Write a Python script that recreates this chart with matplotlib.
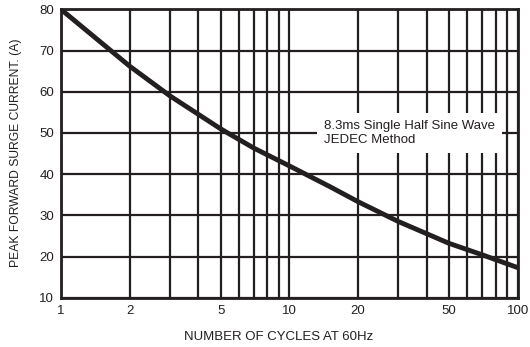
import numpy as np
import matplotlib.pyplot as plt

plt.rcParams['font.family'] = ['Liberation Sans', 'DejaVu Sans']

cycles = [1, 2, 3, 4, 5, 7, 10, 15, 20, 30, 50, 70, 100]
current = [80, 66.2, 59, 54.5, 51, 46.3, 42, 37, 33.3, 28.5, 23.2, 20.4, 17.3]
xticks = [1, 2, 5, 10, 20, 50, 100]
xgrid = [1, 2, 3, 4, 5, 6, 7, 8, 9, 10, 20, 30, 40, 50, 60, 70, 80, 90, 100]
yticks = [10, 20, 30, 40, 50, 60, 70, 80]

fig = plt.figure(figsize=(5.3, 3.47), dpi=100)
ax = fig.add_axes([0.115, 0.142, 0.862, 0.831])

for g in xgrid:
    ax.axvline(g, color='#231f20', lw=1.6, zorder=1)
for g in yticks:
    ax.axhline(g, color='#231f20', lw=1.6, zorder=1)

ax.plot(cycles, current, color='#231f20', lw=3.5, zorder=3, solid_capstyle='butt')

ax.set_xscale('log')
ax.set_xlim(1, 100)
ax.set_ylim(10, 80)
ax.set_xticks(xticks)
ax.set_xticklabels([str(t) for t in xticks])
ax.minorticks_off()
ax.set_yticks(yticks)
ax.tick_params(length=0, labelsize=9.5, colors='#231f20', pad=5)
for s in ax.spines.values():
    s.set_linewidth(2)
    s.set_color('#231f20')

ax.text(14.2, 50.0, "8.3ms Single Half Sine Wave\nJEDEC Method", fontsize=9.5,
        va='center', ha='left', color='#231f20', zorder=4,
        bbox=dict(facecolor='white', edgecolor='none', pad=5))

fig.text(0.525, 0.029, "NUMBER OF CYCLES AT 60Hz", ha='center', va='center',
         fontsize=9.5, color='#231f20')
fig.text(0.030, 0.56, "PEAK FORWARD SURGE CURRENT. (A)", ha='center', va='center',
         rotation=90, fontsize=8.7, color='#231f20')

fig.savefig('out.png', dpi=100)
